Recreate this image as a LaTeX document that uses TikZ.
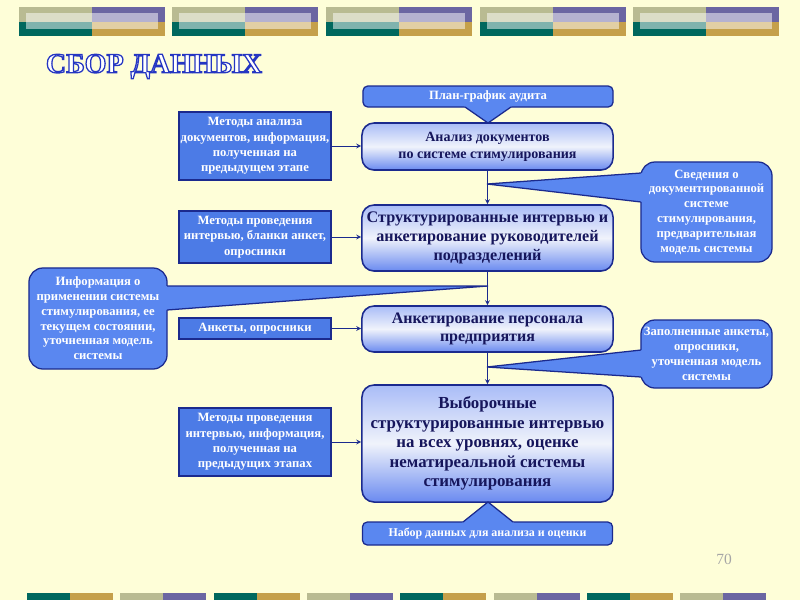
\documentclass[tikz,border=0pt]{standalone}
\usepackage{fontspec}
\setmainfont{Liberation Serif}

\definecolor{bgyellow}{HTML}{FEFED8}
\definecolor{boxblue}{HTML}{4C7BE6}
\definecolor{callblue}{HTML}{5A87F0}
\definecolor{edgeblue}{HTML}{1B2A8E}
\definecolor{textnavy}{HTML}{16165C}
\definecolor{shadetop}{HTML}{A9BCF7}
\definecolor{shademid}{HTML}{F0F3FB}
\definecolor{shadebot}{HTML}{6A8AF0}
\definecolor{stripkhaki}{HTML}{B9BB92}
\definecolor{strippurple}{HTML}{6B66A2}
\definecolor{stripteal}{HTML}{00685E}
\definecolor{stripgold}{HTML}{C5A04A}

% outlined title letters
\newcommand{\outlined}[1]{\textcolor{white}{\special{pdf:literal direct 2 Tr 0.9 w 0.145 0.212 0.761 RG}#1\special{pdf:literal direct 0 Tr 0.4 w}}}

\begin{document}
\begin{tikzpicture}[x=0.025cm,y=-0.025cm,>=stealth,
    stage/.style={draw=edgeblue,line width=1.1pt,rounded corners=0.3cm,
      top color=shadetop,bottom color=shadebot,middle color=shademid,
      text=textnavy,align=center,minimum width=6.275cm,inner sep=1pt},
    inbox/.style={draw=edgeblue,line width=0.9pt,fill=boxblue,text=white,
      align=center,minimum width=3.8cm,inner sep=1pt,
      font=\fontsize{9}{11}\selectfont\bfseries},
    callout/.style={inbox,fill=callblue,rounded corners=0.35cm,
      minimum width=3.275cm,font=\fontsize{9}{10.5}\selectfont\bfseries},
    bar/.style={inbox,fill=callblue,rounded corners=0.12cm,minimum width=6.25cm},
    link/.style={->,draw=edgeblue,line width=0.6pt}]

    \useasboundingbox (0,0) rectangle (800,600);
    \fill[bgyellow] (0,0) rectangle (800,600);

    % top strip
    \foreach \x in {19,172,326,480,633}{
        \fill[stripkhaki] (\x,7) rectangle (\x+73,21.5);
        \fill[strippurple] (\x+73,7) rectangle (\x+146,21.5);
        \fill[stripteal] (\x,21.5) rectangle (\x+73,36);
        \fill[stripgold] (\x+73,21.5) rectangle (\x+146,36);
        \fill[white,opacity=0.5] (\x+7,13) rectangle (\x+139,29);
    }
    % bottom strip
    \foreach \i in {0,...,7}{
        \pgfmathsetmacro\bx{27+93.3*\i}
        \ifodd\i \def\lcol{stripkhaki}\def\rcol{strippurple}\else \def\lcol{stripteal}\def\rcol{stripgold}\fi
        \fill[\lcol] (\bx,593) rectangle (\bx+43,600);
        \fill[\rcol] (\bx+43,593) rectangle (\bx+86,600);
    }

    \node (title) at (154,66.5) {\fontsize{20}{21}\selectfont\bfseries\outlined{СБОР ДАННЫХ}};

    % main column
    \node[bar,minimum height=0.525cm] (plan) at (488,96.5) {План-график аудита};
    \node[stage,minimum height=1.175cm,font=\fontsize{10}{12}\selectfont\bfseries] (s1) at (487.5,146.5)
        {Анализ документов\\по системе стимулирования};
    \node[stage,minimum height=1.65cm,font=\fontsize{11.5}{13.3}\selectfont\bfseries] (s2) at (487.5,238)
        {Структурированные интервью и\\анкетирование руководителей\\подразделений};
    \node[stage,minimum height=1.15cm,font=\fontsize{11.4}{12.8}\selectfont\bfseries] (s3) at (487.5,329)
        {Анкетирование персонала\\предприятия};
    \node[stage,minimum height=2.925cm,font=\fontsize{12}{13.9}\selectfont\bfseries] (s4) at (487.5,443.5)
        {Выборочные\\структурированные интервью\\на всех уровнях, оценке\\нематиреальной системы\\стимулирования};
    \node[bar,minimum height=0.575cm,font=\fontsize{8.5}{10}\selectfont\bfseries] (nabor) at (487.5,533.5)
        {Набор данных для анализа и оценки};

    % inputs
    \node[inbox,minimum height=1.7cm] (in1) at (255,146) {Методы анализа\\документов, информация,\\полученная на\\предыдущем этапе};
    \node[inbox,minimum height=1.3cm] (in2) at (255,237) {Методы проведения\\интервью, бланки анкет,\\опросники};
    \node[inbox,minimum height=0.525cm] (in3) at (255,328.5) {Анкеты, опросники};
    \node[inbox,minimum height=1.7cm] (in4) at (255,442) {Методы проведения\\интервью, информация,\\полученная на\\предыдущих этапах};

    % outputs
    \node[callout,minimum height=2.5cm] (out1) at (706.5,212)
        {Сведения о\\документированной\\системе\\стимулирования,\\предварительная\\модель системы};
    \node[callout,minimum width=3.45cm,minimum height=2.525cm] (out2) at (98,318.5)
        {Информация о\\применении системы\\стимулирования, ее\\текущем состоянии,\\уточненная модель\\системы};
    \node[callout,minimum height=1.7cm] (out3) at (706.5,354)
        {Заполненные анкеты,\\опросники,\\уточненная модель\\системы};

    % pointers
    \coordinate (p1) at (488,123);
    \coordinate (p2) at (488,502);
    \fill[callblue] (463.5,105.5) -- (512.5,105.5) -- (p1) -- cycle;
    \draw[edgeblue,line width=0.9pt] (465,107) -- (p1) -- (511,107);
    \fill[callblue] (461.5,523.5) -- (514.5,523.5) -- (p2) -- cycle;
    \draw[edgeblue,line width=0.9pt] (463,522) -- (p2) -- (513,522);

    % callout tails
    \coordinate (t1) at (487,184);
    \coordinate (t2) at (488,286);
    \coordinate (t3) at (487,367);
    \fill[callblue] (t1) -- (644,172.8) -- (644,202.2) -- cycle;
    \draw[edgeblue,line width=0.9pt] (641,173) -- (t1) -- (641,202);
    \fill[callblue] (t2) -- (164,286) -- (164,310.2) -- cycle;
    \draw[edgeblue,line width=0.9pt] (167,286) -- (t2) -- (167,310);
    \fill[callblue] (t3) -- (644,349.7) -- (644,377.2) -- cycle;
    \draw[edgeblue,line width=0.9pt] (641,350) -- (t3) -- (641,377);

    % links
    \draw[link] (in1.east) -- (in1.east -| s1.west);
    \draw[link] (in2.east) -- (in2.east -| s2.west);
    \draw[link] (in3.east) -- (in3.east -| s3.west);
    \draw[link] (in4.east) -- (in4.east -| s4.west);
    \draw[link] (s1) -- (s2);
    \draw[link] (s2) -- (s3);
    \draw[link] (s3) -- (s4);

    \node[font=\fontsize{11}{12}\selectfont,text=gray!70] (page) at (724,559) {70};
\end{tikzpicture}
\end{document}
